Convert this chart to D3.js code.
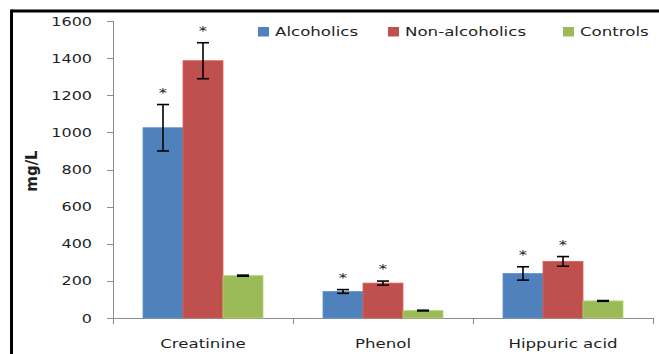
<!DOCTYPE html>
<html>
<head>
<meta charset="utf-8">
<script src="https://cdn.jsdelivr.net/npm/d3@7"></script>
<style>
  html, body { margin: 0; padding: 0; background: #fff; }
  svg { display: block; }
  text { font-family: "DejaVu Sans", Verdana, sans-serif; fill: #1f1f1f; }
</style>
</head>
<body>
<svg id="chart" width="659" height="354"></svg>
<script>
// Urinary metabolite concentrations (mg/L), mean and SD per group
const categories = ["Creatinine", "Phenol", "Hippuric acid"];
const seriesNames = ["Alcoholics", "Non-alcoholics", "Controls"];
const alcoholics = [1025, 143, 240];
const nonAlcoholics = [1386, 188, 305];
const controls = [228, 40, 92];
const alcoholicsSD = [125, 10, 36];
const nonAlcoholicsSD = [97, 11, 26];
const controlsSD = [3, 2, 2];
// significance marks (1 = marked with an asterisk)
const alcoholicsSig = [1, 1, 1];
const nonAlcoholicsSig = [1, 1, 1];
const controlsSig = [0, 0, 0];
const yTicks = [0, 200, 400, 600, 800, 1000, 1200, 1400, 1600];
const colors = ["#4F81BD", "#C0504D", "#9BBB59"];

const values = [alcoholics, nonAlcoholics, controls];
const sds = [alcoholicsSD, nonAlcoholicsSD, controlsSD];
const sigs = [alcoholicsSig, nonAlcoholicsSig, controlsSig];

const svg = d3.select("#chart");
const SX = 1.28; // horizontal text stretch

// outer frame (top and left edges)
svg.append("line").attr("x1", 11.5).attr("x2", 659).attr("y1", 11).attr("y2", 11)
  .attr("stroke", "#000").attr("stroke-width", 3);
svg.append("line").attr("x1", 11.5).attr("x2", 11.5).attr("y1", 9.5).attr("y2", 354)
  .attr("stroke", "#000").attr("stroke-width", 3);

const x = d3.scaleBand().domain(categories).range([113, 653]).padding(0);
const xs = d3.scaleBand().domain(seriesNames).range([30, 150]).padding(0);
const y = d3.scaleLinear().domain([0, 1600]).range([318, 21]);

const axisColor = "#8c8c8c";

// y axis
const gy = svg.append("g");
gy.append("line").attr("x1", 113.5).attr("x2", 113.5).attr("y1", y(1600)).attr("y2", y(0))
  .attr("stroke", axisColor);
yTicks.forEach(t => {
  gy.append("line").attr("x1", 107).attr("x2", 113.5)
    .attr("y1", Math.round(y(t)) + 0.5).attr("y2", Math.round(y(t)) + 0.5)
    .attr("stroke", axisColor);
  gy.append("text")
    .attr("transform", `translate(92,${y(t) + 4.5}) scale(${SX},1)`)
    .attr("text-anchor", "end")
    .attr("font-size", 12.5)
    .text(t);
});

// y axis title
svg.append("text")
  .attr("transform", `translate(37,171) rotate(-90) scale(1.15,1.25)`)
  .attr("text-anchor", "middle")
  .attr("font-size", 13)
  .attr("font-weight", "bold")
  .text("mg/L");

// x axis
const gx = svg.append("g");
gx.append("line").attr("x1", 113).attr("x2", 654).attr("y1", 318.5).attr("y2", 318.5)
  .attr("stroke", axisColor);
[...categories.map(c => x(c)), x(categories[categories.length - 1]) + x.bandwidth()].forEach(px => {
  gx.append("line").attr("x1", Math.round(px) + 0.5).attr("x2", Math.round(px) + 0.5)
    .attr("y1", 318.5).attr("y2", 324).attr("stroke", axisColor);
});
categories.forEach(c => {
  gx.append("text")
    .attr("transform", `translate(${x(c) + x.bandwidth() / 2},348) scale(${SX},1)`)
    .attr("text-anchor", "middle")
    .attr("font-size", 13)
    .text(c);
});

// bars, error bars and asterisks
const capW = 12;
seriesNames.forEach((s, si) => {
  const g = svg.append("g");
  categories.forEach((c, ci) => {
    const v = values[si][ci];
    const sd = sds[si][ci];
    const bx = x(c) + xs(s);
    const cx = bx + xs.bandwidth() / 2;
    g.append("rect")
      .attr("x", bx).attr("y", y(v))
      .attr("width", xs.bandwidth()).attr("height", y(0) - y(v))
      .attr("fill", colors[si])
      .attr("stroke", d3.color(colors[si]).brighter(0.4))
      .attr("stroke-width", 0.8);
    const eg = g.append("g").attr("stroke", "#000").attr("stroke-width", 1.6);
    eg.append("line").attr("x1", cx).attr("x2", cx).attr("y1", y(v + sd)).attr("y2", y(v - sd));
    eg.append("line").attr("x1", cx - capW / 2).attr("x2", cx + capW / 2).attr("y1", y(v + sd)).attr("y2", y(v + sd));
    eg.append("line").attr("x1", cx - capW / 2).attr("x2", cx + capW / 2).attr("y1", y(v - sd)).attr("y2", y(v - sd));
    if (sigs[si][ci]) {
      g.append("text")
        .attr("transform", `translate(${cx},${y(v + sd) - 8}) scale(${SX},1)`)
        .attr("text-anchor", "middle")
        .attr("font-size", 13)
        .text("*");
    }
  });
});

// legend
const legendX = [258, 388, 563];
seriesNames.forEach((s, si) => {
  svg.append("rect").attr("x", legendX[si]).attr("y", 27).attr("width", 11).attr("height", 9.5)
    .attr("fill", colors[si]);
  svg.append("text")
    .attr("transform", `translate(${legendX[si] + 17},36) scale(${SX},1)`)
    .attr("font-size", 13)
    .text(s);
});
</script>
</body>
</html>
